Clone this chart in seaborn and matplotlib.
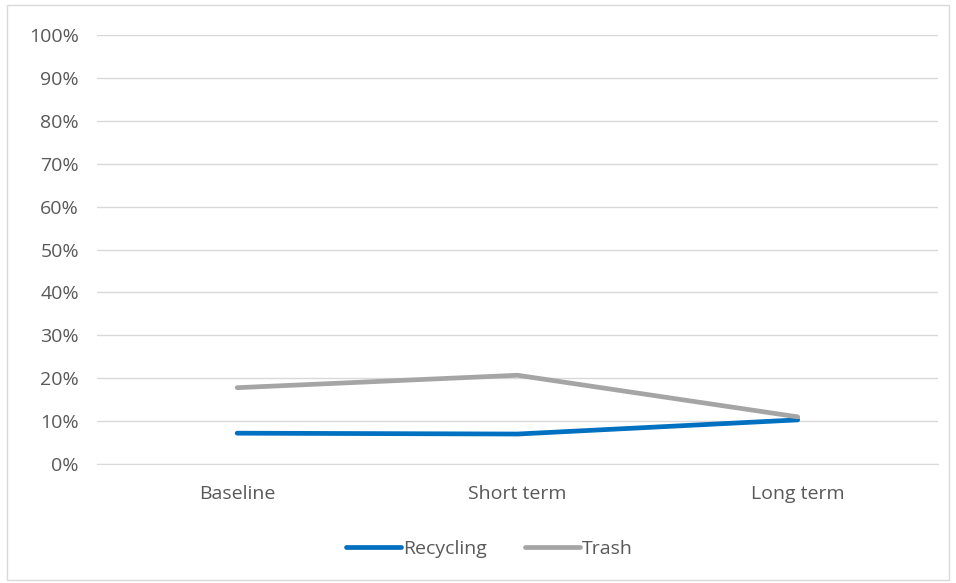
import matplotlib
matplotlib.use("Agg")
import matplotlib.pyplot as plt
import matplotlib.patches as mpatches
import pandas as pd
import seaborn as sns

PHASES = ["Baseline", "Short term", "Long term"]
RECYCLING = [0.072, 0.070, 0.103]
TRASH = [0.178, 0.207, 0.110]
Y_TICKS = [i / 10 for i in range(11)]

df = pd.DataFrame({
    "phase": PHASES * 2,
    "value": RECYCLING + TRASH,
    "series": ["Recycling"] * 3 + ["Trash"] * 3,
})

sns.set_style("white")
plt.rcParams["font.family"] = ["Open Sans", "DejaVu Sans"]

fig = plt.figure(figsize=(9.56, 5.83), dpi=100)
ax = fig.add_axes([0.1015, 0.204, 0.8795, 0.736])

palette = {"Recycling": "#0070c0", "Trash": "#a5a5a5"}
sns.lineplot(data=df, x="phase", y="value", hue="series", palette=palette,
             linewidth=3.4, sort=False, ax=ax, legend=False,
             solid_capstyle="round")

ax.set_xlim(-0.5, 2.5)
ax.set_ylim(0, 1.0)
ax.set_yticks(Y_TICKS)
ax.set_yticklabels([f"{int(round(t * 100))}%" for t in Y_TICKS])
ax.grid(axis="y", color="#d9d9d9", linewidth=1)
ax.set_axisbelow(True)
for s in ["top", "right", "left"]:
    ax.spines[s].set_visible(False)
ax.spines["bottom"].set_color("#d9d9d9")
ax.tick_params(axis="both", length=0, labelsize=14, colors="#595959")
ax.tick_params(axis="x", pad=15)
ax.tick_params(axis="y", pad=13)
ax.set_xlabel("")
ax.set_ylabel("")

handles = [plt.Line2D([], [], color=palette[k], linewidth=3.4,
                      solid_capstyle="round") for k in ["Recycling", "Trash"]]
leg = fig.legend(handles, ["Recycling", "Trash"], loc="center",
                 bbox_to_anchor=(0.512, 0.058), ncol=2, frameon=False,
                 fontsize=14, handlelength=2.8, handletextpad=0.1,
                 columnspacing=2.0)
for t in leg.get_texts():
    t.set_color("#595959")

fig.patches.append(mpatches.Rectangle((0.007, 0.005), 0.986, 0.987,
                                      transform=fig.transFigure, fill=False,
                                      edgecolor="#d9d9d9", linewidth=1))

fig.savefig("out.png", dpi=100)
